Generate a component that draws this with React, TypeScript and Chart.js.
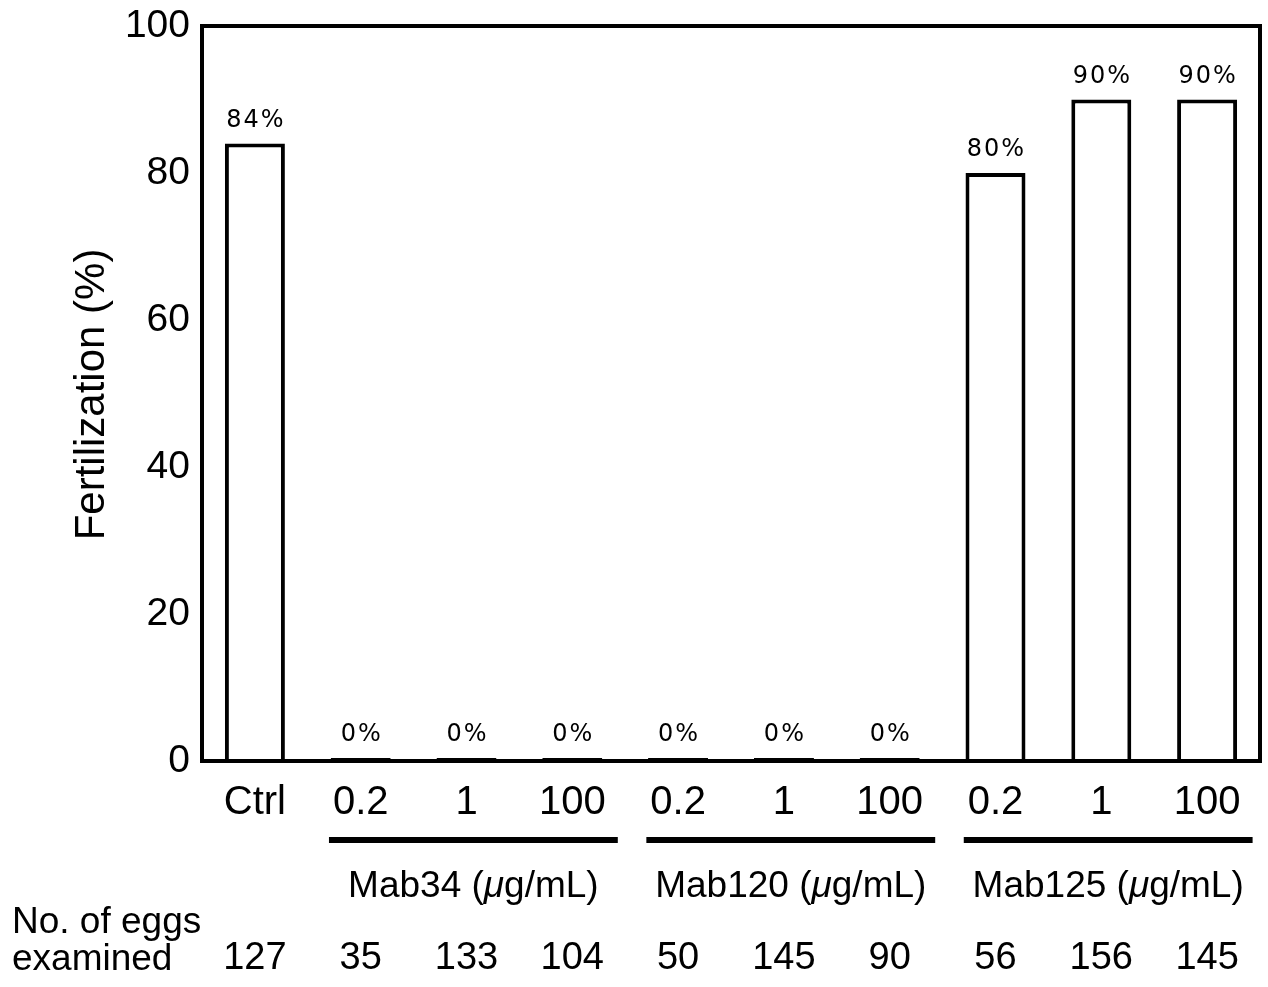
import React, { useEffect, useRef } from 'react';
import { Chart, registerables } from 'chart.js';

Chart.register(...registerables);

const categories = ['Ctrl', '0.2', '1', '100', '0.2', '1', '100', '0.2', '1', '100'];
const fertilization = [84, 0, 0, 0, 0, 0, 0, 80, 90, 90];
const eggCounts = [127, 35, 133, 104, 50, 145, 90, 56, 156, 145];
const groupNames = ['Mab34', 'Mab120', 'Mab125'];
const groupStart = [1, 4, 7];
const groupEnd = [3, 6, 9];
const yTickValues = [0, 20, 40, 60, 80, 100];
const yTitle = 'Fertilization (%)';
const rowLabel = ['No. of eggs', 'examined'];

const SANS = '"Liberation Sans", Arial, Helvetica, sans-serif';

const overlay = {
  id: 'overlay',
  afterDraw(chart: any) {
    const { ctx, chartArea: a } = chart;
    const x = chart.scales.x;
    ctx.save();
    ctx.fillStyle = '#000';
    ctx.strokeStyle = '#000';

    // frame
    ctx.lineWidth = 4;
    ctx.strokeRect(a.left, a.top, a.right - a.left, a.bottom - a.top);

    // value labels
    const meta = chart.getDatasetMeta(0);
    ctx.font = '24px "DejaVu Sans", Verdana, sans-serif';
    (ctx as any).letterSpacing = '2px';
    ctx.textAlign = 'center';
    ctx.textBaseline = 'alphabetic';
    meta.data.forEach((bar: any, i: number) => {
      ctx.fillText(fertilization[i] + '%', bar.x + 1, bar.y - 17);
    });
    (ctx as any).letterSpacing = '0px';

    // y axis title
    ctx.save();
    ctx.translate(104, (a.top + a.bottom) / 2 + 1);
    ctx.rotate(-Math.PI / 2);
    ctx.font = `42px ${SANS}`;
    ctx.textAlign = 'center';
    ctx.textBaseline = 'alphabetic';
    ctx.fillText(yTitle, 0, 0);
    ctx.restore();

    const step = x.getPixelForValue(1) - x.getPixelForValue(0);

    // group lines and labels
    groupNames.forEach((name, g) => {
      const x0 = x.getPixelForValue(groupStart[g]) - 0.3 * step;
      const x1 = x.getPixelForValue(groupEnd[g]) + 0.43 * step;
      ctx.fillRect(x0, 837, x1 - x0, 6);
      const cx = (x0 + x1) / 2;
      const p1 = name + ' (';
      const p2 = '\u03bc';
      const p3 = 'g/mL)';
      ctx.font = `37px ${SANS}`;
      const w1 = ctx.measureText(p1).width;
      const w3 = ctx.measureText(p3).width;
      ctx.font = `italic 37px ${SANS}`;
      const w2 = ctx.measureText(p2).width;
      let sx = cx - (w1 + w2 + w3) / 2;
      ctx.textAlign = 'left';
      ctx.font = `37px ${SANS}`;
      ctx.fillText(p1, sx, 897);
      sx += w1;
      ctx.font = `italic 37px ${SANS}`;
      ctx.fillText(p2, sx, 897);
      sx += w2;
      ctx.font = `37px ${SANS}`;
      ctx.fillText(p3, sx, 897);
    });

    // egg counts row
    ctx.font = `37px ${SANS}`;
    ctx.textAlign = 'left';
    ctx.fillText(rowLabel[0], 12, 933);
    ctx.fillText(rowLabel[1], 12, 970);
    ctx.font = `38px ${SANS}`;
    ctx.textAlign = 'center';
    eggCounts.forEach((n, i) => {
      ctx.fillText(String(n), x.getPixelForValue(i), 969);
    });

    ctx.restore();
  },
};

export default function App() {
  const ref = useRef<HTMLCanvasElement | null>(null);

  useEffect(() => {
    if (!ref.current) return;
    const chart = new Chart(ref.current, {
      type: 'bar',
      data: {
        labels: categories,
        datasets: [
          {
            data: fertilization,
            backgroundColor: '#ffffff',
            borderColor: '#000000',
            borderWidth: 4,
            minBarLength: 3,
            barPercentage: 0.567,
            categoryPercentage: 1,
          },
        ],
      },
      options: {
        animation: false,
        responsive: true,
        maintainAspectRatio: false,
        layout: { padding: { top: 26, right: 8, left: 0, bottom: 0 } },
        plugins: {
          legend: { display: false },
          tooltip: { enabled: false },
        },
        scales: {
          x: {
            grid: { display: false, drawTicks: false, tickLength: 0 },
            border: { display: false },
            ticks: {
              color: '#000',
              padding: 18,
              maxRotation: 0,
              autoSkip: false,
              font: { family: SANS, size: 40 },
            },
            afterFit(scale: any) {
              scale.height = 226;
              scale.paddingLeft = 0;
              scale.paddingRight = 0;
            },
          },
          y: {
            min: 0,
            max: 100,
            afterBuildTicks(scale: any) {
              scale.ticks = yTickValues.map((v) => ({ value: v }));
            },
            grid: { display: false, drawTicks: false, tickLength: 0 },
            border: { display: false },
            ticks: {
              color: '#000',
              padding: 12,
              font: { family: SANS, size: 39 },
            },
            afterFit(scale: any) {
              scale.width = 202;
              scale.paddingTop = 0;
              scale.paddingBottom = 0;
            },
          },
        },
      },
      plugins: [overlay],
    });
    return () => chart.destroy();
  }, []);

  return (
    <div style={{ position: 'fixed', left: 0, top: 0, width: 1268, height: 987, background: '#fff' }}>
      <canvas ref={ref} style={{ display: 'block' }} />
    </div>
  );
}
